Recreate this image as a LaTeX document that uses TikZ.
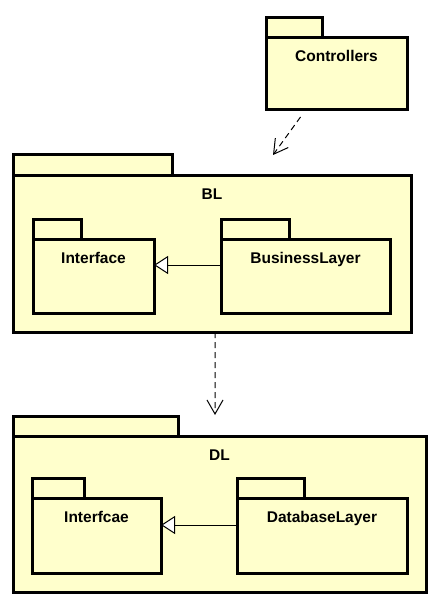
\documentclass[tikz,border=0pt]{standalone}
\usepackage{fontspec}
\setmainfont{Liberation Sans}
\usetikzlibrary{arrows.meta,positioning}
\definecolor{pkgyellow}{HTML}{FFFFCC}
\tikzset{
    %Define style for package bodies
    pkg/.style={
           rectangle,
           draw=black, line width=3bp,
           fill=pkgyellow,
           inner sep=0pt, outer sep=0pt,
           anchor=north west},
    %Define style for package tabs
    pkgtab/.style={
           pkg,
           anchor=south west,
           minimum height=20bp},
    %Define style for package names
    pkgname/.style={
           font=\fontsize{15.5bp}{18bp}\selectfont\bfseries,
           anchor=base,
           inner sep=0pt},
    % Define arrow styles
    dep/.style={
           -{Straight Barb[length=14bp,width=16bp]},
           dash pattern=on 6bp off 4bp,
           line width=1bp},
    impl/.style={
           -{Triangle[open,fill=white,length=14bp,width=18bp]},
           line width=1bp}
}
\begin{document}
\begin{tikzpicture}[x=1bp,y=-1bp]
\useasboundingbox (0,0) rectangle (434,604);
 %Controllers
\node[pkgtab, minimum width=56bp](ctrltab) at (266,38){};
\node[pkg, minimum width=141bp, minimum height=72bp](ctrl) at (266,38){};
\node[pkgname](ctrlname) at ([yshift=-24bp]ctrl.north){Controllers};
 %BL
\node[pkgtab, minimum width=159bp](bltab) at (13,175){};
\node[pkg, minimum width=398bp, minimum height=157bp](bl) at (13,175){};
\node[pkgname](blname) at ([yshift=-24bp]bl.north){BL};
\node[pkgtab, minimum width=48bp](ifacetab) at (33,239){};
\node[pkg, minimum width=121bp, minimum height=74bp](iface) at (33,239){};
\node[pkgname](ifacename) at ([yshift=-24bp]iface.north){Interface};
\node[pkgtab, minimum width=68bp](biztab) at (221,239){};
\node[pkg, minimum width=169bp, minimum height=74bp](biz) at (221,239){};
\node[pkgname](bizname) at ([yshift=-24bp]biz.north){BusinessLayer};
 %DL
\node[pkgtab, minimum width=165bp](dltab) at (13,436){};
\node[pkg, minimum width=413bp, minimum height=156bp](dl) at (13,436){};
\node[pkgname](dlname) at ([yshift=-24bp]dl.north){DL};
\node[pkgtab, minimum width=52bp](dlifacetab) at (32,498){};
\node[pkg, minimum width=129bp, minimum height=75bp](dliface) at (32,498){};
\node[pkgname](dlifacename) at ([yshift=-24bp]dliface.north){Interfcae};
\node[pkgtab, minimum width=67bp](dbtab) at (237,498){};
\node[pkg, minimum width=170bp, minimum height=75bp](db) at (237,498){};
\node[pkgname](dbname) at ([yshift=-24bp]db.north){DatabaseLayer};
 %arrows
\draw[dep] ([xshift=-36bp,yshift=-7bp]ctrl.south) -- ([xshift=61bp,yshift=20bp]bl.north);
\draw[dep] ([xshift=3bp]bl.south) -- ([xshift=-4.5bp,yshift=21bp]dl.north);
\draw[impl] ([yshift=11bp]biz.west) -- ([yshift=11bp]iface.east);
\draw[impl] ([yshift=10.5bp]db.west) -- ([yshift=10.5bp]dliface.east);
\end{tikzpicture}
\end{document}
